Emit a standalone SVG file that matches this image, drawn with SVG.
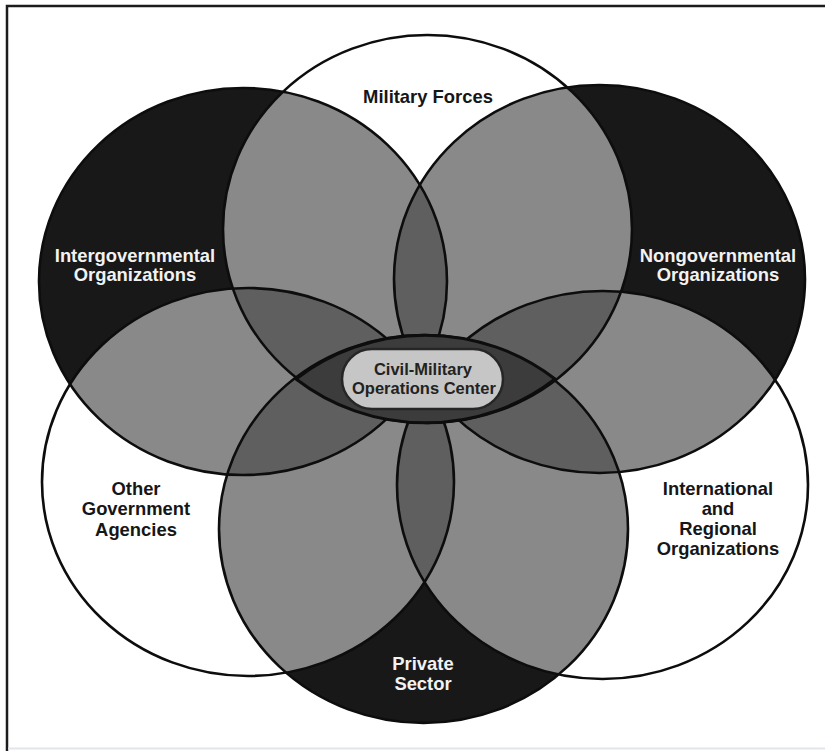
<svg xmlns="http://www.w3.org/2000/svg" xmlns:xlink="http://www.w3.org/1999/xlink" width="825" height="751" viewBox="0 0 825 751">
<style>
.lbl{font-family:"Liberation Sans",Arial,sans-serif;font-weight:bold;font-size:18.4px;text-anchor:middle}
.dk{fill:#161616}
.lt{fill:#f2f2f2}
.ol{fill:none;stroke:#0d0d0d;stroke-width:2.6}
.white{fill:#ffffff}
.black{fill:#181818}
.g2{fill:#898989}
.g3{fill:#5f5f5f}
.pill{font-family:"Liberation Sans",Arial,sans-serif;font-weight:bold;font-size:16.5px;text-anchor:middle;fill:#222}
</style>
<defs>
<ellipse id="e-mf" cx="427.5" cy="229" rx="204.5" ry="194"/>
<ellipse id="e-ngo" cx="599.5" cy="279" rx="205.5" ry="194"/>
<ellipse id="e-iro" cx="602.5" cy="485" rx="205.5" ry="194"/>
<ellipse id="e-ps" cx="423.5" cy="529" rx="204.5" ry="194"/>
<ellipse id="e-oga" cx="248" cy="482" rx="206" ry="194"/>
<ellipse id="e-igo" cx="243" cy="281.5" rx="204" ry="193.5"/>
<clipPath id="c-mf"><ellipse cx="427.5" cy="229" rx="204.5" ry="194"/></clipPath>
<clipPath id="c-ngo"><ellipse cx="599.5" cy="279" rx="205.5" ry="194"/></clipPath>
<clipPath id="c-iro"><ellipse cx="602.5" cy="485" rx="205.5" ry="194"/></clipPath>
<clipPath id="c-ps"><ellipse cx="423.5" cy="529" rx="204.5" ry="194"/></clipPath>
<clipPath id="c-oga"><ellipse cx="248" cy="482" rx="206" ry="194"/></clipPath>
<clipPath id="c-igo"><ellipse cx="243" cy="281.5" rx="204" ry="193.5"/></clipPath>
</defs>
<rect x="0" y="0" width="825" height="751" fill="#ffffff"/>
<path d="M7,751 V6 H825" fill="none" stroke="#1c1c1c" stroke-width="2.5"/>
<line x1="8" y1="748.5" x2="825" y2="748.5" stroke="#e2e6ea" stroke-width="2"/>
<g id="fills">
<use xlink:href="#e-mf" href="#e-mf" class="white"/>
<use xlink:href="#e-oga" href="#e-oga" class="white"/>
<use xlink:href="#e-iro" href="#e-iro" class="white"/>
<use xlink:href="#e-igo" href="#e-igo" class="black"/>
<use xlink:href="#e-ngo" href="#e-ngo" class="black"/>
<use xlink:href="#e-ps" href="#e-ps" class="black"/>
<g clip-path="url(#c-mf)"><use xlink:href="#e-ngo" href="#e-ngo" class="g2"/></g>
<g clip-path="url(#c-mf)"><use xlink:href="#e-igo" href="#e-igo" class="g2"/></g>
<g clip-path="url(#c-mf)"><use xlink:href="#e-oga" href="#e-oga" class="g2"/></g>
<g clip-path="url(#c-mf)"><use xlink:href="#e-iro" href="#e-iro" class="g2"/></g>
<g clip-path="url(#c-ngo)"><use xlink:href="#e-iro" href="#e-iro" class="g2"/></g>
<g clip-path="url(#c-ngo)"><use xlink:href="#e-ps" href="#e-ps" class="g2"/></g>
<g clip-path="url(#c-ngo)"><use xlink:href="#e-igo" href="#e-igo" class="g2"/></g>
<g clip-path="url(#c-iro)"><use xlink:href="#e-ps" href="#e-ps" class="g2"/></g>
<g clip-path="url(#c-iro)"><use xlink:href="#e-oga" href="#e-oga" class="g2"/></g>
<g clip-path="url(#c-ps)"><use xlink:href="#e-oga" href="#e-oga" class="g2"/></g>
<g clip-path="url(#c-ps)"><use xlink:href="#e-igo" href="#e-igo" class="g2"/></g>
<g clip-path="url(#c-oga)"><use xlink:href="#e-igo" href="#e-igo" class="g2"/></g>
<g clip-path="url(#c-mf)"><g clip-path="url(#c-ngo)"><use xlink:href="#e-igo" href="#e-igo" class="g3"/></g></g>
<g clip-path="url(#c-mf)"><g clip-path="url(#c-igo)"><use xlink:href="#e-oga" href="#e-oga" class="g3"/></g></g>
<g clip-path="url(#c-mf)"><g clip-path="url(#c-ngo)"><use xlink:href="#e-iro" href="#e-iro" class="g3"/></g></g>
<g clip-path="url(#c-igo)"><g clip-path="url(#c-oga)"><use xlink:href="#e-ps" href="#e-ps" class="g3"/></g></g>
<g clip-path="url(#c-ngo)"><g clip-path="url(#c-iro)"><use xlink:href="#e-ps" href="#e-ps" class="g3"/></g></g>
<g clip-path="url(#c-oga)"><g clip-path="url(#c-iro)"><use xlink:href="#e-ps" href="#e-ps" class="g3"/></g></g>
</g>
<g id="military-forces">
<use xlink:href="#e-mf" href="#e-mf" class="ol"/>
<text class="lbl dk" x="428" y="103">Military Forces</text>
</g>
<g id="nongovernmental-organizations">
<use xlink:href="#e-ngo" href="#e-ngo" class="ol"/>
<text class="lbl lt" x="718" y="262">Nongovernmental</text>
<text class="lbl lt" x="718" y="281">Organizations</text>
</g>
<g id="international-regional-organizations">
<use xlink:href="#e-iro" href="#e-iro" class="ol"/>
<text class="lbl dk" x="718" y="495">International</text>
<text class="lbl dk" x="718" y="515">and</text>
<text class="lbl dk" x="718" y="535">Regional</text>
<text class="lbl dk" x="718" y="555">Organizations</text>
</g>
<g id="private-sector">
<use xlink:href="#e-ps" href="#e-ps" class="ol"/>
<text class="lbl lt" x="423" y="670">Private</text>
<text class="lbl lt" x="423" y="690">Sector</text>
</g>
<g id="other-government-agencies">
<use xlink:href="#e-oga" href="#e-oga" class="ol"/>
<text class="lbl dk" x="136" y="495">Other</text>
<text class="lbl dk" x="136" y="515">Government</text>
<text class="lbl dk" x="136" y="536">Agencies</text>
</g>
<g id="intergovernmental-organizations">
<use xlink:href="#e-igo" href="#e-igo" class="ol"/>
<text class="lbl lt" x="135" y="262">Intergovernmental</text>
<text class="lbl lt" x="135" y="281">Organizations</text>
</g>
<g id="civil-military-operations-center">
<path d="M296,379 A204.5,194 0 0 1 555,379 A204.5,194 0 0 1 296,379 Z" fill="#3c3c3c" stroke="#0d0d0d" stroke-width="3"/>
<rect x="342" y="349" width="161" height="60" rx="30" ry="30" fill="#c6c6c6" stroke="#262626" stroke-width="2.5"/>
<text class="pill" x="423" y="375">Civil-Military</text>
<text class="pill" x="424" y="394">Operations Center</text>
</g>
</svg>
